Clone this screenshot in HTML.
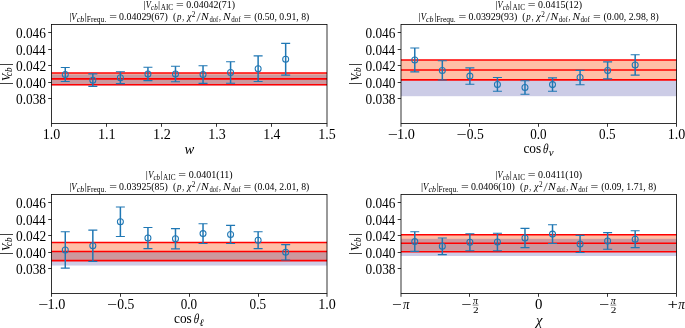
<!DOCTYPE html>
<html><head><meta charset="utf-8"><style>
html,body{margin:0;padding:0;background:#fff;}
svg{display:block;will-change:transform;}
text{font-family:"Liberation Serif",serif;white-space:pre;fill:#000;}
</style></head><body>
<svg width="685" height="328" viewBox="0 0 685 328">
<rect width="685" height="328" fill="#fff"/>
<rect x="51.5" y="73.03" width="275.5" height="11.72" fill="rgba(255,69,0,0.35)"/>
<rect x="51.5" y="74.43" width="275.5" height="11.05" fill="rgba(0,0,128,0.2)"/>
<line x1="51.5" x2="327" y1="73.03" y2="73.03" stroke="#ff0000" stroke-width="1.6"/>
<line x1="51.5" x2="327" y1="78.89" y2="78.89" stroke="#ff0000" stroke-width="1.6"/>
<line x1="51.5" x2="327" y1="84.74" y2="84.74" stroke="#ff0000" stroke-width="1.6"/>
<path d="M65.27 67.5V81.5" stroke="#1f77b4" stroke-width="1.5" fill="none"/>
<path d="M60.77 67.5H69.77M60.77 81.5H69.77" stroke="#1f77b4" stroke-width="1.1" fill="none"/>
<circle cx="65.27" cy="74.5" r="3" stroke="#1f77b4" stroke-width="1.05" fill="none"/>
<path d="M92.83 73.9V86.4" stroke="#1f77b4" stroke-width="1.5" fill="none"/>
<path d="M88.33 73.9H97.33M88.33 86.4H97.33" stroke="#1f77b4" stroke-width="1.1" fill="none"/>
<circle cx="92.83" cy="80.15" r="3" stroke="#1f77b4" stroke-width="1.05" fill="none"/>
<path d="M120.38 71.7V83.6" stroke="#1f77b4" stroke-width="1.5" fill="none"/>
<path d="M115.88 71.7H124.88M115.88 83.6H124.88" stroke="#1f77b4" stroke-width="1.1" fill="none"/>
<circle cx="120.38" cy="77.65" r="3" stroke="#1f77b4" stroke-width="1.05" fill="none"/>
<path d="M147.93 67.3V80.6" stroke="#1f77b4" stroke-width="1.5" fill="none"/>
<path d="M143.43 67.3H152.43M143.43 80.6H152.43" stroke="#1f77b4" stroke-width="1.1" fill="none"/>
<circle cx="147.93" cy="73.95" r="3" stroke="#1f77b4" stroke-width="1.05" fill="none"/>
<path d="M175.48 66.3V81.8" stroke="#1f77b4" stroke-width="1.5" fill="none"/>
<path d="M170.98 66.3H179.98M170.98 81.8H179.98" stroke="#1f77b4" stroke-width="1.1" fill="none"/>
<circle cx="175.48" cy="74.05" r="3" stroke="#1f77b4" stroke-width="1.05" fill="none"/>
<path d="M203.03 65.7V83.4" stroke="#1f77b4" stroke-width="1.5" fill="none"/>
<path d="M198.53 65.7H207.53M198.53 83.4H207.53" stroke="#1f77b4" stroke-width="1.1" fill="none"/>
<circle cx="203.03" cy="74.55" r="3" stroke="#1f77b4" stroke-width="1.05" fill="none"/>
<path d="M230.58 61.8V83.2" stroke="#1f77b4" stroke-width="1.5" fill="none"/>
<path d="M226.08 61.8H235.08M226.08 83.2H235.08" stroke="#1f77b4" stroke-width="1.1" fill="none"/>
<circle cx="230.58" cy="72.5" r="3" stroke="#1f77b4" stroke-width="1.05" fill="none"/>
<path d="M258.12 55.9V81.5" stroke="#1f77b4" stroke-width="1.5" fill="none"/>
<path d="M253.62 55.9H262.62M253.62 81.5H262.62" stroke="#1f77b4" stroke-width="1.1" fill="none"/>
<circle cx="258.12" cy="68.7" r="3" stroke="#1f77b4" stroke-width="1.05" fill="none"/>
<path d="M285.67 43.4V75.1" stroke="#1f77b4" stroke-width="1.5" fill="none"/>
<path d="M281.17 43.4H290.17M281.17 75.1H290.17" stroke="#1f77b4" stroke-width="1.1" fill="none"/>
<circle cx="285.67" cy="59.25" r="3" stroke="#1f77b4" stroke-width="1.05" fill="none"/>
<rect x="51.5" y="24.5" width="275.5" height="99" fill="none" stroke="#000" stroke-width="0.8"/>
<line x1="48.2" x2="51.5" y1="98.5" y2="98.5" stroke="#000" stroke-width="0.8"/>
<text x="15.99" y="103.6" font-size="14" textLength="30.02" lengthAdjust="spacingAndGlyphs">0.038</text>
<line x1="48.2" x2="51.5" y1="82.5" y2="82.5" stroke="#000" stroke-width="0.8"/>
<text x="15.99" y="87.6" font-size="14" textLength="30.02" lengthAdjust="spacingAndGlyphs">0.040</text>
<line x1="48.2" x2="51.5" y1="65.5" y2="65.5" stroke="#000" stroke-width="0.8"/>
<text x="15.99" y="70.6" font-size="14" textLength="30.25" lengthAdjust="spacingAndGlyphs">0.042</text>
<line x1="48.2" x2="51.5" y1="49.5" y2="49.5" stroke="#000" stroke-width="0.8"/>
<text x="16" y="54.6" font-size="14" textLength="29.71" lengthAdjust="spacingAndGlyphs">0.044</text>
<line x1="48.2" x2="51.5" y1="32.5" y2="32.5" stroke="#000" stroke-width="0.8"/>
<text x="15.99" y="37.6" font-size="14" textLength="29.9" lengthAdjust="spacingAndGlyphs">0.046</text>
<line x1="51.5" x2="51.5" y1="123.5" y2="126.8" stroke="#000" stroke-width="0.8"/>
<line x1="106.5" x2="106.5" y1="123.5" y2="126.8" stroke="#000" stroke-width="0.8"/>
<line x1="161.5" x2="161.5" y1="123.5" y2="126.8" stroke="#000" stroke-width="0.8"/>
<line x1="216.5" x2="216.5" y1="123.5" y2="126.8" stroke="#000" stroke-width="0.8"/>
<line x1="271.5" x2="271.5" y1="123.5" y2="126.8" stroke="#000" stroke-width="0.8"/>
<line x1="327" x2="327" y1="123.5" y2="126.8" stroke="#000" stroke-width="0.8"/>
<text x="143.36" y="7.9" font-size="10.4">|</text>
<text x="145.76" y="8" font-size="9.5" font-style="italic" textLength="5.13" lengthAdjust="spacingAndGlyphs">V</text>
<text x="151.08" y="10" font-size="7.2" font-style="italic" textLength="6.63" lengthAdjust="spacingAndGlyphs">cb</text>
<text x="158.06" y="7.9" font-size="10.4">|</text>
<text x="160.73" y="10" font-size="7.2" textLength="12.47" lengthAdjust="spacingAndGlyphs">AIC</text>
<text x="175.92" y="8" font-size="9.5" textLength="7.76" lengthAdjust="spacingAndGlyphs">=</text>
<text x="186.32" y="8" font-size="9.5" textLength="48.71" lengthAdjust="spacingAndGlyphs">0.04042(71)</text>
<text x="69.16" y="19.5" font-size="10.4">|</text>
<text x="71.25" y="19.6" font-size="9.5" font-style="italic" textLength="5.32" lengthAdjust="spacingAndGlyphs">V</text>
<text x="76.65" y="21.6" font-size="7.2" font-style="italic" textLength="7.59" lengthAdjust="spacingAndGlyphs">cb</text>
<text x="84.86" y="19.5" font-size="10.4">|</text>
<text x="86.78" y="21.6" font-size="7.2" textLength="19.52" lengthAdjust="spacingAndGlyphs">Frequ.</text>
<text x="109.22" y="19.6" font-size="9.5" textLength="7.76" lengthAdjust="spacingAndGlyphs">=</text>
<text x="119.12" y="19.6" font-size="9.5" textLength="48.71" lengthAdjust="spacingAndGlyphs">0.04029(67)</text>
<text x="172.97" y="19.6" font-size="9.5" textLength="3.24" lengthAdjust="spacingAndGlyphs">(</text>
<text x="176.92" y="19.6" font-size="9.5" font-style="italic" textLength="4.45" lengthAdjust="spacingAndGlyphs">p</text>
<text x="182.32" y="19.6" font-size="9.5" textLength="1.85" lengthAdjust="spacingAndGlyphs">,</text>
<text x="187.17" y="19.6" font-size="9.5" font-style="italic" textLength="4.23" lengthAdjust="spacingAndGlyphs">χ</text>
<text x="191.88" y="17.2" font-size="7.2" textLength="3.62" lengthAdjust="spacingAndGlyphs">2</text>
<line x1="196.8" y1="21.6" x2="200.3" y2="12.9" stroke="#000" stroke-width="0.55"/>
<text x="201.08" y="19.6" font-size="9.5" font-style="italic" textLength="7.68" lengthAdjust="spacingAndGlyphs">N</text>
<text x="209.46" y="21.6" font-size="7.2" textLength="8.84" lengthAdjust="spacingAndGlyphs">dof</text>
<text x="219.12" y="19.6" font-size="9.5" textLength="1.85" lengthAdjust="spacingAndGlyphs">,</text>
<text x="223.08" y="19.6" font-size="9.5" font-style="italic" textLength="7.59" lengthAdjust="spacingAndGlyphs">N</text>
<text x="231.15" y="21.6" font-size="7.2" textLength="9.35" lengthAdjust="spacingAndGlyphs">dof</text>
<text x="243.62" y="19.6" font-size="9.5" textLength="7.76" lengthAdjust="spacingAndGlyphs">=</text>
<text x="254.17" y="19.6" font-size="9.5" textLength="55.16" lengthAdjust="spacingAndGlyphs">(0.50, 0.91, 8)</text>
<g transform="translate(9.8,74) rotate(-90)">
<text x="-11.05" y="0.05" font-size="15.5">|</text>
<text x="-6.91" y="0" font-size="13.5" font-style="italic" textLength="7.18" lengthAdjust="spacingAndGlyphs">V</text>
<text x="-2.19" y="2" font-size="9.8" font-style="italic" textLength="8.77" lengthAdjust="spacingAndGlyphs">cb</text>
<text x="8.05" y="0.05" font-size="15.5">|</text>
</g>
<rect x="401" y="60.07" width="275.5" height="19.8" fill="rgba(255,69,0,0.35)"/>
<rect x="401" y="80.21" width="275.5" height="16" fill="rgba(0,0,128,0.2)"/>
<line x1="401" x2="676.5" y1="60.07" y2="60.07" stroke="#ff0000" stroke-width="1.6"/>
<line x1="401" x2="676.5" y1="69.97" y2="69.97" stroke="#ff0000" stroke-width="1.6"/>
<line x1="401" x2="676.5" y1="79.87" y2="79.87" stroke="#ff0000" stroke-width="1.6"/>
<path d="M414.77 48V71.9" stroke="#1f77b4" stroke-width="1.5" fill="none"/>
<path d="M410.27 48H419.27M410.27 71.9H419.27" stroke="#1f77b4" stroke-width="1.1" fill="none"/>
<circle cx="414.77" cy="59.95" r="3" stroke="#1f77b4" stroke-width="1.05" fill="none"/>
<path d="M442.32 60.8V80" stroke="#1f77b4" stroke-width="1.5" fill="none"/>
<path d="M437.82 60.8H446.82M437.82 80H446.82" stroke="#1f77b4" stroke-width="1.1" fill="none"/>
<circle cx="442.32" cy="70.4" r="3" stroke="#1f77b4" stroke-width="1.05" fill="none"/>
<path d="M469.88 67.9V84.3" stroke="#1f77b4" stroke-width="1.5" fill="none"/>
<path d="M465.38 67.9H474.38M465.38 84.3H474.38" stroke="#1f77b4" stroke-width="1.1" fill="none"/>
<circle cx="469.88" cy="76.1" r="3" stroke="#1f77b4" stroke-width="1.05" fill="none"/>
<path d="M497.43 77.5V91.3" stroke="#1f77b4" stroke-width="1.5" fill="none"/>
<path d="M492.93 77.5H501.93M492.93 91.3H501.93" stroke="#1f77b4" stroke-width="1.1" fill="none"/>
<circle cx="497.43" cy="84.4" r="3" stroke="#1f77b4" stroke-width="1.05" fill="none"/>
<path d="M524.98 80.7V94.3" stroke="#1f77b4" stroke-width="1.5" fill="none"/>
<path d="M520.48 80.7H529.48M520.48 94.3H529.48" stroke="#1f77b4" stroke-width="1.1" fill="none"/>
<circle cx="524.98" cy="87.5" r="3" stroke="#1f77b4" stroke-width="1.05" fill="none"/>
<path d="M552.52 77.9V91.3" stroke="#1f77b4" stroke-width="1.5" fill="none"/>
<path d="M548.02 77.9H557.02M548.02 91.3H557.02" stroke="#1f77b4" stroke-width="1.1" fill="none"/>
<circle cx="552.52" cy="84.6" r="3" stroke="#1f77b4" stroke-width="1.05" fill="none"/>
<path d="M580.08 70.4V84.7" stroke="#1f77b4" stroke-width="1.5" fill="none"/>
<path d="M575.58 70.4H584.58M575.58 84.7H584.58" stroke="#1f77b4" stroke-width="1.1" fill="none"/>
<circle cx="580.08" cy="77.55" r="3" stroke="#1f77b4" stroke-width="1.05" fill="none"/>
<path d="M607.62 61.9V78.9" stroke="#1f77b4" stroke-width="1.5" fill="none"/>
<path d="M603.12 61.9H612.12M603.12 78.9H612.12" stroke="#1f77b4" stroke-width="1.1" fill="none"/>
<circle cx="607.62" cy="70.4" r="3" stroke="#1f77b4" stroke-width="1.05" fill="none"/>
<path d="M635.17 54.8V75.1" stroke="#1f77b4" stroke-width="1.5" fill="none"/>
<path d="M630.67 54.8H639.67M630.67 75.1H639.67" stroke="#1f77b4" stroke-width="1.1" fill="none"/>
<circle cx="635.17" cy="64.95" r="3" stroke="#1f77b4" stroke-width="1.05" fill="none"/>
<rect x="401" y="24.5" width="275.5" height="99" fill="none" stroke="#000" stroke-width="0.8"/>
<line x1="397.7" x2="401" y1="98.5" y2="98.5" stroke="#000" stroke-width="0.8"/>
<text x="365.49" y="103.6" font-size="14" textLength="30.02" lengthAdjust="spacingAndGlyphs">0.038</text>
<line x1="397.7" x2="401" y1="82.5" y2="82.5" stroke="#000" stroke-width="0.8"/>
<text x="365.49" y="87.6" font-size="14" textLength="30.02" lengthAdjust="spacingAndGlyphs">0.040</text>
<line x1="397.7" x2="401" y1="65.5" y2="65.5" stroke="#000" stroke-width="0.8"/>
<text x="365.49" y="70.6" font-size="14" textLength="30.25" lengthAdjust="spacingAndGlyphs">0.042</text>
<line x1="397.7" x2="401" y1="49.5" y2="49.5" stroke="#000" stroke-width="0.8"/>
<text x="365.5" y="54.6" font-size="14" textLength="29.71" lengthAdjust="spacingAndGlyphs">0.044</text>
<line x1="397.7" x2="401" y1="32.5" y2="32.5" stroke="#000" stroke-width="0.8"/>
<text x="365.49" y="37.6" font-size="14" textLength="29.9" lengthAdjust="spacingAndGlyphs">0.046</text>
<line x1="401" x2="401" y1="123.5" y2="126.8" stroke="#000" stroke-width="0.8"/>
<line x1="469.5" x2="469.5" y1="123.5" y2="126.8" stroke="#000" stroke-width="0.8"/>
<line x1="538.5" x2="538.5" y1="123.5" y2="126.8" stroke="#000" stroke-width="0.8"/>
<line x1="607.5" x2="607.5" y1="123.5" y2="126.8" stroke="#000" stroke-width="0.8"/>
<line x1="676.5" x2="676.5" y1="123.5" y2="126.8" stroke="#000" stroke-width="0.8"/>
<text x="495.13" y="7.9" font-size="10.4">|</text>
<text x="497.54" y="8" font-size="9.5" font-style="italic" textLength="5.13" lengthAdjust="spacingAndGlyphs">V</text>
<text x="502.86" y="10" font-size="7.2" font-style="italic" textLength="6.63" lengthAdjust="spacingAndGlyphs">cb</text>
<text x="509.83" y="7.9" font-size="10.4">|</text>
<text x="512.5" y="10" font-size="7.2" textLength="12.47" lengthAdjust="spacingAndGlyphs">AIC</text>
<text x="527.69" y="8" font-size="9.5" textLength="7.76" lengthAdjust="spacingAndGlyphs">=</text>
<text x="538.1" y="8" font-size="9.5" textLength="43.97" lengthAdjust="spacingAndGlyphs">0.0415(12)</text>
<text x="418.56" y="19.5" font-size="10.4">|</text>
<text x="420.65" y="19.6" font-size="9.5" font-style="italic" textLength="5.32" lengthAdjust="spacingAndGlyphs">V</text>
<text x="426.05" y="21.6" font-size="7.2" font-style="italic" textLength="7.59" lengthAdjust="spacingAndGlyphs">cb</text>
<text x="434.26" y="19.5" font-size="10.4">|</text>
<text x="436.18" y="21.6" font-size="7.2" textLength="19.52" lengthAdjust="spacingAndGlyphs">Frequ.</text>
<text x="458.62" y="19.6" font-size="9.5" textLength="7.76" lengthAdjust="spacingAndGlyphs">=</text>
<text x="468.52" y="19.6" font-size="9.5" textLength="48.71" lengthAdjust="spacingAndGlyphs">0.03929(93)</text>
<text x="522.37" y="19.6" font-size="9.5" textLength="3.24" lengthAdjust="spacingAndGlyphs">(</text>
<text x="526.32" y="19.6" font-size="9.5" font-style="italic" textLength="4.45" lengthAdjust="spacingAndGlyphs">p</text>
<text x="531.72" y="19.6" font-size="9.5" textLength="1.85" lengthAdjust="spacingAndGlyphs">,</text>
<text x="536.57" y="19.6" font-size="9.5" font-style="italic" textLength="4.23" lengthAdjust="spacingAndGlyphs">χ</text>
<text x="541.28" y="17.2" font-size="7.2" textLength="3.62" lengthAdjust="spacingAndGlyphs">2</text>
<line x1="546.2" y1="21.6" x2="549.7" y2="12.9" stroke="#000" stroke-width="0.55"/>
<text x="550.48" y="19.6" font-size="9.5" font-style="italic" textLength="7.68" lengthAdjust="spacingAndGlyphs">N</text>
<text x="558.86" y="21.6" font-size="7.2" textLength="8.84" lengthAdjust="spacingAndGlyphs">dof</text>
<text x="568.52" y="19.6" font-size="9.5" textLength="1.85" lengthAdjust="spacingAndGlyphs">,</text>
<text x="572.48" y="19.6" font-size="9.5" font-style="italic" textLength="7.59" lengthAdjust="spacingAndGlyphs">N</text>
<text x="580.55" y="21.6" font-size="7.2" textLength="9.35" lengthAdjust="spacingAndGlyphs">dof</text>
<text x="593.02" y="19.6" font-size="9.5" textLength="7.76" lengthAdjust="spacingAndGlyphs">=</text>
<text x="603.57" y="19.6" font-size="9.5" textLength="55.16" lengthAdjust="spacingAndGlyphs">(0.00, 2.98, 8)</text>
<g transform="translate(359.3,74) rotate(-90)">
<text x="-11.05" y="0.05" font-size="15.5">|</text>
<text x="-6.91" y="0" font-size="13.5" font-style="italic" textLength="7.18" lengthAdjust="spacingAndGlyphs">V</text>
<text x="-2.19" y="2" font-size="9.8" font-style="italic" textLength="8.77" lengthAdjust="spacingAndGlyphs">cb</text>
<text x="8.05" y="0.05" font-size="15.5">|</text>
</g>
<rect x="51.5" y="242.45" width="275.5" height="18.15" fill="rgba(255,69,0,0.35)"/>
<rect x="51.5" y="251.53" width="275.5" height="14.02" fill="rgba(0,0,128,0.2)"/>
<line x1="51.5" x2="327" y1="242.45" y2="242.45" stroke="#ff0000" stroke-width="1.6"/>
<line x1="51.5" x2="327" y1="251.53" y2="251.53" stroke="#ff0000" stroke-width="1.6"/>
<line x1="51.5" x2="327" y1="260.6" y2="260.6" stroke="#ff0000" stroke-width="1.6"/>
<path d="M65.27 231.8V268.1" stroke="#1f77b4" stroke-width="1.5" fill="none"/>
<path d="M60.77 231.8H69.77M60.77 268.1H69.77" stroke="#1f77b4" stroke-width="1.1" fill="none"/>
<circle cx="65.27" cy="249.95" r="3" stroke="#1f77b4" stroke-width="1.05" fill="none"/>
<path d="M92.83 230.1V261.4" stroke="#1f77b4" stroke-width="1.5" fill="none"/>
<path d="M88.33 230.1H97.33M88.33 261.4H97.33" stroke="#1f77b4" stroke-width="1.1" fill="none"/>
<circle cx="92.83" cy="245.75" r="3" stroke="#1f77b4" stroke-width="1.05" fill="none"/>
<path d="M120.38 207V236.5" stroke="#1f77b4" stroke-width="1.5" fill="none"/>
<path d="M115.88 207H124.88M115.88 236.5H124.88" stroke="#1f77b4" stroke-width="1.1" fill="none"/>
<circle cx="120.38" cy="221.75" r="3" stroke="#1f77b4" stroke-width="1.05" fill="none"/>
<path d="M147.93 227.5V248.6" stroke="#1f77b4" stroke-width="1.5" fill="none"/>
<path d="M143.43 227.5H152.43M143.43 248.6H152.43" stroke="#1f77b4" stroke-width="1.1" fill="none"/>
<circle cx="147.93" cy="238.05" r="3" stroke="#1f77b4" stroke-width="1.05" fill="none"/>
<path d="M175.48 228.6V248.9" stroke="#1f77b4" stroke-width="1.5" fill="none"/>
<path d="M170.98 228.6H179.98M170.98 248.9H179.98" stroke="#1f77b4" stroke-width="1.1" fill="none"/>
<circle cx="175.48" cy="238.75" r="3" stroke="#1f77b4" stroke-width="1.05" fill="none"/>
<path d="M203.03 223.7V243.5" stroke="#1f77b4" stroke-width="1.5" fill="none"/>
<path d="M198.53 223.7H207.53M198.53 243.5H207.53" stroke="#1f77b4" stroke-width="1.1" fill="none"/>
<circle cx="203.03" cy="233.6" r="3" stroke="#1f77b4" stroke-width="1.05" fill="none"/>
<path d="M230.58 225.4V243.5" stroke="#1f77b4" stroke-width="1.5" fill="none"/>
<path d="M226.08 225.4H235.08M226.08 243.5H235.08" stroke="#1f77b4" stroke-width="1.1" fill="none"/>
<circle cx="230.58" cy="234.45" r="3" stroke="#1f77b4" stroke-width="1.05" fill="none"/>
<path d="M258.12 231.8V248.6" stroke="#1f77b4" stroke-width="1.5" fill="none"/>
<path d="M253.62 231.8H262.62M253.62 248.6H262.62" stroke="#1f77b4" stroke-width="1.1" fill="none"/>
<circle cx="258.12" cy="240.2" r="3" stroke="#1f77b4" stroke-width="1.05" fill="none"/>
<path d="M285.67 244.6V260" stroke="#1f77b4" stroke-width="1.5" fill="none"/>
<path d="M281.17 244.6H290.17M281.17 260H290.17" stroke="#1f77b4" stroke-width="1.1" fill="none"/>
<circle cx="285.67" cy="252.3" r="3" stroke="#1f77b4" stroke-width="1.05" fill="none"/>
<rect x="51.5" y="194.5" width="275.5" height="99" fill="none" stroke="#000" stroke-width="0.8"/>
<line x1="48.2" x2="51.5" y1="268.5" y2="268.5" stroke="#000" stroke-width="0.8"/>
<text x="15.99" y="273.6" font-size="14" textLength="30.02" lengthAdjust="spacingAndGlyphs">0.038</text>
<line x1="48.2" x2="51.5" y1="252.5" y2="252.5" stroke="#000" stroke-width="0.8"/>
<text x="15.99" y="257.6" font-size="14" textLength="30.02" lengthAdjust="spacingAndGlyphs">0.040</text>
<line x1="48.2" x2="51.5" y1="235.5" y2="235.5" stroke="#000" stroke-width="0.8"/>
<text x="15.99" y="240.6" font-size="14" textLength="30.25" lengthAdjust="spacingAndGlyphs">0.042</text>
<line x1="48.2" x2="51.5" y1="219.5" y2="219.5" stroke="#000" stroke-width="0.8"/>
<text x="16" y="224.6" font-size="14" textLength="29.71" lengthAdjust="spacingAndGlyphs">0.044</text>
<line x1="48.2" x2="51.5" y1="202.5" y2="202.5" stroke="#000" stroke-width="0.8"/>
<text x="15.99" y="207.6" font-size="14" textLength="29.9" lengthAdjust="spacingAndGlyphs">0.046</text>
<line x1="51.5" x2="51.5" y1="293.5" y2="296.8" stroke="#000" stroke-width="0.8"/>
<line x1="120.5" x2="120.5" y1="293.5" y2="296.8" stroke="#000" stroke-width="0.8"/>
<line x1="189.5" x2="189.5" y1="293.5" y2="296.8" stroke="#000" stroke-width="0.8"/>
<line x1="258.5" x2="258.5" y1="293.5" y2="296.8" stroke="#000" stroke-width="0.8"/>
<line x1="327" x2="327" y1="293.5" y2="296.8" stroke="#000" stroke-width="0.8"/>
<text x="145.73" y="177.9" font-size="10.4">|</text>
<text x="148.14" y="178" font-size="9.5" font-style="italic" textLength="5.13" lengthAdjust="spacingAndGlyphs">V</text>
<text x="153.46" y="180" font-size="7.2" font-style="italic" textLength="6.63" lengthAdjust="spacingAndGlyphs">cb</text>
<text x="160.43" y="177.9" font-size="10.4">|</text>
<text x="163.1" y="180" font-size="7.2" textLength="12.47" lengthAdjust="spacingAndGlyphs">AIC</text>
<text x="178.29" y="178" font-size="9.5" textLength="7.76" lengthAdjust="spacingAndGlyphs">=</text>
<text x="188.7" y="178" font-size="9.5" textLength="43.97" lengthAdjust="spacingAndGlyphs">0.0401(11)</text>
<text x="69.16" y="189.5" font-size="10.4">|</text>
<text x="71.25" y="189.6" font-size="9.5" font-style="italic" textLength="5.32" lengthAdjust="spacingAndGlyphs">V</text>
<text x="76.65" y="191.6" font-size="7.2" font-style="italic" textLength="7.59" lengthAdjust="spacingAndGlyphs">cb</text>
<text x="84.86" y="189.5" font-size="10.4">|</text>
<text x="86.78" y="191.6" font-size="7.2" textLength="19.52" lengthAdjust="spacingAndGlyphs">Frequ.</text>
<text x="109.22" y="189.6" font-size="9.5" textLength="7.76" lengthAdjust="spacingAndGlyphs">=</text>
<text x="119.12" y="189.6" font-size="9.5" textLength="48.71" lengthAdjust="spacingAndGlyphs">0.03925(85)</text>
<text x="172.97" y="189.6" font-size="9.5" textLength="3.24" lengthAdjust="spacingAndGlyphs">(</text>
<text x="176.92" y="189.6" font-size="9.5" font-style="italic" textLength="4.45" lengthAdjust="spacingAndGlyphs">p</text>
<text x="182.32" y="189.6" font-size="9.5" textLength="1.85" lengthAdjust="spacingAndGlyphs">,</text>
<text x="187.17" y="189.6" font-size="9.5" font-style="italic" textLength="4.23" lengthAdjust="spacingAndGlyphs">χ</text>
<text x="191.88" y="187.2" font-size="7.2" textLength="3.62" lengthAdjust="spacingAndGlyphs">2</text>
<line x1="196.8" y1="191.6" x2="200.3" y2="182.9" stroke="#000" stroke-width="0.55"/>
<text x="201.08" y="189.6" font-size="9.5" font-style="italic" textLength="7.68" lengthAdjust="spacingAndGlyphs">N</text>
<text x="209.46" y="191.6" font-size="7.2" textLength="8.84" lengthAdjust="spacingAndGlyphs">dof</text>
<text x="219.12" y="189.6" font-size="9.5" textLength="1.85" lengthAdjust="spacingAndGlyphs">,</text>
<text x="223.08" y="189.6" font-size="9.5" font-style="italic" textLength="7.59" lengthAdjust="spacingAndGlyphs">N</text>
<text x="231.15" y="191.6" font-size="7.2" textLength="9.35" lengthAdjust="spacingAndGlyphs">dof</text>
<text x="243.62" y="189.6" font-size="9.5" textLength="7.76" lengthAdjust="spacingAndGlyphs">=</text>
<text x="254.17" y="189.6" font-size="9.5" textLength="55.16" lengthAdjust="spacingAndGlyphs">(0.04, 2.01, 8)</text>
<g transform="translate(9.8,244) rotate(-90)">
<text x="-11.05" y="0.05" font-size="15.5">|</text>
<text x="-6.91" y="0" font-size="13.5" font-style="italic" textLength="7.18" lengthAdjust="spacingAndGlyphs">V</text>
<text x="-2.19" y="2" font-size="9.8" font-style="italic" textLength="8.77" lengthAdjust="spacingAndGlyphs">cb</text>
<text x="8.05" y="0.05" font-size="15.5">|</text>
</g>
<rect x="401" y="234.78" width="275.5" height="17" fill="rgba(255,69,0,0.35)"/>
<rect x="401" y="238.82" width="275.5" height="17.16" fill="rgba(0,0,128,0.2)"/>
<line x1="401" x2="676.5" y1="234.78" y2="234.78" stroke="#ff0000" stroke-width="1.6"/>
<line x1="401" x2="676.5" y1="243.28" y2="243.28" stroke="#ff0000" stroke-width="1.6"/>
<line x1="401" x2="676.5" y1="251.77" y2="251.77" stroke="#ff0000" stroke-width="1.6"/>
<path d="M414.77 231.8V251.4" stroke="#1f77b4" stroke-width="1.5" fill="none"/>
<path d="M410.27 231.8H419.27M410.27 251.4H419.27" stroke="#1f77b4" stroke-width="1.1" fill="none"/>
<circle cx="414.77" cy="241.6" r="3" stroke="#1f77b4" stroke-width="1.05" fill="none"/>
<path d="M442.32 238V254.6" stroke="#1f77b4" stroke-width="1.5" fill="none"/>
<path d="M437.82 238H446.82M437.82 254.6H446.82" stroke="#1f77b4" stroke-width="1.1" fill="none"/>
<circle cx="442.32" cy="246.3" r="3" stroke="#1f77b4" stroke-width="1.05" fill="none"/>
<path d="M469.88 233.7V250.8" stroke="#1f77b4" stroke-width="1.5" fill="none"/>
<path d="M465.38 233.7H474.38M465.38 250.8H474.38" stroke="#1f77b4" stroke-width="1.1" fill="none"/>
<circle cx="469.88" cy="242.25" r="3" stroke="#1f77b4" stroke-width="1.05" fill="none"/>
<path d="M497.43 233.3V250.8" stroke="#1f77b4" stroke-width="1.5" fill="none"/>
<path d="M492.93 233.3H501.93M492.93 250.8H501.93" stroke="#1f77b4" stroke-width="1.1" fill="none"/>
<circle cx="497.43" cy="242.05" r="3" stroke="#1f77b4" stroke-width="1.05" fill="none"/>
<path d="M524.98 228.4V247.6" stroke="#1f77b4" stroke-width="1.5" fill="none"/>
<path d="M520.48 228.4H529.48M520.48 247.6H529.48" stroke="#1f77b4" stroke-width="1.1" fill="none"/>
<circle cx="524.98" cy="238" r="3" stroke="#1f77b4" stroke-width="1.05" fill="none"/>
<path d="M552.52 224.7V243.5" stroke="#1f77b4" stroke-width="1.5" fill="none"/>
<path d="M548.02 224.7H557.02M548.02 243.5H557.02" stroke="#1f77b4" stroke-width="1.1" fill="none"/>
<circle cx="552.52" cy="234.1" r="3" stroke="#1f77b4" stroke-width="1.05" fill="none"/>
<path d="M580.08 235.4V252.5" stroke="#1f77b4" stroke-width="1.5" fill="none"/>
<path d="M575.58 235.4H584.58M575.58 252.5H584.58" stroke="#1f77b4" stroke-width="1.1" fill="none"/>
<circle cx="580.08" cy="243.95" r="3" stroke="#1f77b4" stroke-width="1.05" fill="none"/>
<path d="M607.62 232.6V249.3" stroke="#1f77b4" stroke-width="1.5" fill="none"/>
<path d="M603.12 232.6H612.12M603.12 249.3H612.12" stroke="#1f77b4" stroke-width="1.1" fill="none"/>
<circle cx="607.62" cy="240.95" r="3" stroke="#1f77b4" stroke-width="1.05" fill="none"/>
<path d="M635.17 230.7V247.6" stroke="#1f77b4" stroke-width="1.5" fill="none"/>
<path d="M630.67 230.7H639.67M630.67 247.6H639.67" stroke="#1f77b4" stroke-width="1.1" fill="none"/>
<circle cx="635.17" cy="239.15" r="3" stroke="#1f77b4" stroke-width="1.05" fill="none"/>
<rect x="401" y="194.5" width="275.5" height="99" fill="none" stroke="#000" stroke-width="0.8"/>
<line x1="397.7" x2="401" y1="268.5" y2="268.5" stroke="#000" stroke-width="0.8"/>
<text x="365.49" y="273.6" font-size="14" textLength="30.02" lengthAdjust="spacingAndGlyphs">0.038</text>
<line x1="397.7" x2="401" y1="252.5" y2="252.5" stroke="#000" stroke-width="0.8"/>
<text x="365.49" y="257.6" font-size="14" textLength="30.02" lengthAdjust="spacingAndGlyphs">0.040</text>
<line x1="397.7" x2="401" y1="235.5" y2="235.5" stroke="#000" stroke-width="0.8"/>
<text x="365.49" y="240.6" font-size="14" textLength="30.25" lengthAdjust="spacingAndGlyphs">0.042</text>
<line x1="397.7" x2="401" y1="219.5" y2="219.5" stroke="#000" stroke-width="0.8"/>
<text x="365.5" y="224.6" font-size="14" textLength="29.71" lengthAdjust="spacingAndGlyphs">0.044</text>
<line x1="397.7" x2="401" y1="202.5" y2="202.5" stroke="#000" stroke-width="0.8"/>
<text x="365.49" y="207.6" font-size="14" textLength="29.9" lengthAdjust="spacingAndGlyphs">0.046</text>
<line x1="401" x2="401" y1="293.5" y2="296.8" stroke="#000" stroke-width="0.8"/>
<line x1="469.5" x2="469.5" y1="293.5" y2="296.8" stroke="#000" stroke-width="0.8"/>
<line x1="538.5" x2="538.5" y1="293.5" y2="296.8" stroke="#000" stroke-width="0.8"/>
<line x1="607.5" x2="607.5" y1="293.5" y2="296.8" stroke="#000" stroke-width="0.8"/>
<line x1="676.5" x2="676.5" y1="293.5" y2="296.8" stroke="#000" stroke-width="0.8"/>
<text x="495.13" y="177.9" font-size="10.4">|</text>
<text x="497.54" y="178" font-size="9.5" font-style="italic" textLength="5.13" lengthAdjust="spacingAndGlyphs">V</text>
<text x="502.86" y="180" font-size="7.2" font-style="italic" textLength="6.63" lengthAdjust="spacingAndGlyphs">cb</text>
<text x="509.83" y="177.9" font-size="10.4">|</text>
<text x="512.5" y="180" font-size="7.2" textLength="12.47" lengthAdjust="spacingAndGlyphs">AIC</text>
<text x="527.69" y="178" font-size="9.5" textLength="7.76" lengthAdjust="spacingAndGlyphs">=</text>
<text x="538.1" y="178" font-size="9.5" textLength="43.97" lengthAdjust="spacingAndGlyphs">0.0411(10)</text>
<text x="420.93" y="189.5" font-size="10.4">|</text>
<text x="423.02" y="189.6" font-size="9.5" font-style="italic" textLength="5.32" lengthAdjust="spacingAndGlyphs">V</text>
<text x="428.43" y="191.6" font-size="7.2" font-style="italic" textLength="7.59" lengthAdjust="spacingAndGlyphs">cb</text>
<text x="436.63" y="189.5" font-size="10.4">|</text>
<text x="438.56" y="191.6" font-size="7.2" textLength="19.52" lengthAdjust="spacingAndGlyphs">Frequ.</text>
<text x="460.99" y="189.6" font-size="9.5" textLength="7.76" lengthAdjust="spacingAndGlyphs">=</text>
<text x="470.9" y="189.6" font-size="9.5" textLength="43.97" lengthAdjust="spacingAndGlyphs">0.0406(10)</text>
<text x="520" y="189.6" font-size="9.5" textLength="3.24" lengthAdjust="spacingAndGlyphs">(</text>
<text x="523.95" y="189.6" font-size="9.5" font-style="italic" textLength="4.45" lengthAdjust="spacingAndGlyphs">p</text>
<text x="529.34" y="189.6" font-size="9.5" textLength="1.85" lengthAdjust="spacingAndGlyphs">,</text>
<text x="534.2" y="189.6" font-size="9.5" font-style="italic" textLength="4.23" lengthAdjust="spacingAndGlyphs">χ</text>
<text x="538.91" y="187.2" font-size="7.2" textLength="3.62" lengthAdjust="spacingAndGlyphs">2</text>
<line x1="543.82" y1="191.6" x2="547.33" y2="182.9" stroke="#000" stroke-width="0.55"/>
<text x="548.11" y="189.6" font-size="9.5" font-style="italic" textLength="7.68" lengthAdjust="spacingAndGlyphs">N</text>
<text x="556.49" y="191.6" font-size="7.2" textLength="8.84" lengthAdjust="spacingAndGlyphs">dof</text>
<text x="566.14" y="189.6" font-size="9.5" textLength="1.85" lengthAdjust="spacingAndGlyphs">,</text>
<text x="570.11" y="189.6" font-size="9.5" font-style="italic" textLength="7.59" lengthAdjust="spacingAndGlyphs">N</text>
<text x="578.17" y="191.6" font-size="7.2" textLength="9.35" lengthAdjust="spacingAndGlyphs">dof</text>
<text x="590.64" y="189.6" font-size="9.5" textLength="7.76" lengthAdjust="spacingAndGlyphs">=</text>
<text x="601.2" y="189.6" font-size="9.5" textLength="55.16" lengthAdjust="spacingAndGlyphs">(0.09, 1.71, 8)</text>
<g transform="translate(359.3,244) rotate(-90)">
<text x="-11.05" y="0.05" font-size="15.5">|</text>
<text x="-6.91" y="0" font-size="13.5" font-style="italic" textLength="7.18" lengthAdjust="spacingAndGlyphs">V</text>
<text x="-2.19" y="2" font-size="9.8" font-style="italic" textLength="8.77" lengthAdjust="spacingAndGlyphs">cb</text>
<text x="8.05" y="0.05" font-size="15.5">|</text>
</g>
<text x="42.87" y="139" font-size="14" textLength="17.46" lengthAdjust="spacingAndGlyphs">1.0</text>
<text x="97.95" y="139" font-size="14" textLength="17.81" lengthAdjust="spacingAndGlyphs">1.1</text>
<text x="153.05" y="139" font-size="14" textLength="17.73" lengthAdjust="spacingAndGlyphs">1.2</text>
<text x="208.17" y="139" font-size="14" textLength="17.47" lengthAdjust="spacingAndGlyphs">1.3</text>
<text x="263.3" y="139" font-size="14" textLength="17.12" lengthAdjust="spacingAndGlyphs">1.4</text>
<text x="318.37" y="139" font-size="14" textLength="17.47" lengthAdjust="spacingAndGlyphs">1.5</text>
<text x="387.91" y="139" font-size="14" textLength="10.06" lengthAdjust="spacingAndGlyphs">−</text>
<text x="397.05" y="139" font-size="14" textLength="17.79" lengthAdjust="spacingAndGlyphs">1.0</text>
<text x="456.79" y="139" font-size="14" textLength="10.06" lengthAdjust="spacingAndGlyphs">−</text>
<text x="466.66" y="139" font-size="14" textLength="17.05" lengthAdjust="spacingAndGlyphs">0.5</text>
<text x="530.25" y="139" font-size="14" textLength="16.4" lengthAdjust="spacingAndGlyphs">0.0</text>
<text x="599.12" y="139" font-size="14" textLength="16.41" lengthAdjust="spacingAndGlyphs">0.5</text>
<text x="667.76" y="139" font-size="14" textLength="17.57" lengthAdjust="spacingAndGlyphs">1.0</text>
<text x="38.41" y="309" font-size="14" textLength="10.06" lengthAdjust="spacingAndGlyphs">−</text>
<text x="47.55" y="309" font-size="14" textLength="17.79" lengthAdjust="spacingAndGlyphs">1.0</text>
<text x="107.29" y="309" font-size="14" textLength="10.06" lengthAdjust="spacingAndGlyphs">−</text>
<text x="117.16" y="309" font-size="14" textLength="17.05" lengthAdjust="spacingAndGlyphs">0.5</text>
<text x="180.75" y="309" font-size="14" textLength="16.4" lengthAdjust="spacingAndGlyphs">0.0</text>
<text x="249.62" y="309" font-size="14" textLength="16.41" lengthAdjust="spacingAndGlyphs">0.5</text>
<text x="318.26" y="309" font-size="14" textLength="17.57" lengthAdjust="spacingAndGlyphs">1.0</text>
<text x="392.34" y="309" font-size="14" textLength="9.7" lengthAdjust="spacingAndGlyphs">−</text>
<text x="402.93" y="309" font-size="14" font-style="italic" textLength="6.47" lengthAdjust="spacingAndGlyphs">π</text>
<text x="535.08" y="309" font-size="14" textLength="7.43" lengthAdjust="spacingAndGlyphs">0</text>
<text x="667.58" y="309" font-size="14" textLength="10.42" lengthAdjust="spacingAndGlyphs">+</text>
<text x="678.13" y="309" font-size="14" font-style="italic" textLength="6.57" lengthAdjust="spacingAndGlyphs">π</text>
<text x="461.48" y="309" font-size="14" textLength="10.18" lengthAdjust="spacingAndGlyphs">−</text>
<text x="472.92" y="303.6" font-size="9.5" font-style="italic" textLength="4.93" lengthAdjust="spacingAndGlyphs">π</text>
<line x1="472.68" x2="478.48" y1="305.1" y2="305.1" stroke="#000" stroke-width="0.5"/>
<text x="472.98" y="312.7" font-size="8" textLength="5.61" lengthAdjust="spacingAndGlyphs">2</text>
<text x="599.23" y="309" font-size="14" textLength="10.18" lengthAdjust="spacingAndGlyphs">−</text>
<text x="610.67" y="303.6" font-size="9.5" font-style="italic" textLength="4.93" lengthAdjust="spacingAndGlyphs">π</text>
<line x1="610.42" x2="616.23" y1="305.1" y2="305.1" stroke="#000" stroke-width="0.5"/>
<text x="610.73" y="312.7" font-size="8" textLength="5.61" lengthAdjust="spacingAndGlyphs">2</text>
<text x="184.55" y="153.9" font-size="14.2" font-style="italic" textLength="9.76" lengthAdjust="spacingAndGlyphs">w</text>
<text x="523.39" y="153.2" font-size="14" textLength="17.79" lengthAdjust="spacingAndGlyphs">cos</text>
<g transform="translate(0 153.2) skewX(-11) translate(0 -153.2)">
<text x="542.37" y="153.2" font-size="13.6" textLength="5.41" lengthAdjust="spacingAndGlyphs">θ</text>
</g>
<text x="548.85" y="156" font-size="10" font-style="italic" textLength="4.85" lengthAdjust="spacingAndGlyphs">v</text>
<text x="173.99" y="323.2" font-size="14" textLength="17.79" lengthAdjust="spacingAndGlyphs">cos</text>
<g transform="translate(0 323.2) skewX(-11) translate(0 -323.2)">
<text x="192.97" y="323.2" font-size="13.6" textLength="5.41" lengthAdjust="spacingAndGlyphs">θ</text>
</g>
<text x="199.49" y="325.7" font-size="10" font-style="italic" textLength="4.26" lengthAdjust="spacingAndGlyphs">ℓ</text>
<text x="535.99" y="325.3" font-size="14.2" font-style="italic" textLength="6.51" lengthAdjust="spacingAndGlyphs">χ</text>
</svg>
</body></html>
